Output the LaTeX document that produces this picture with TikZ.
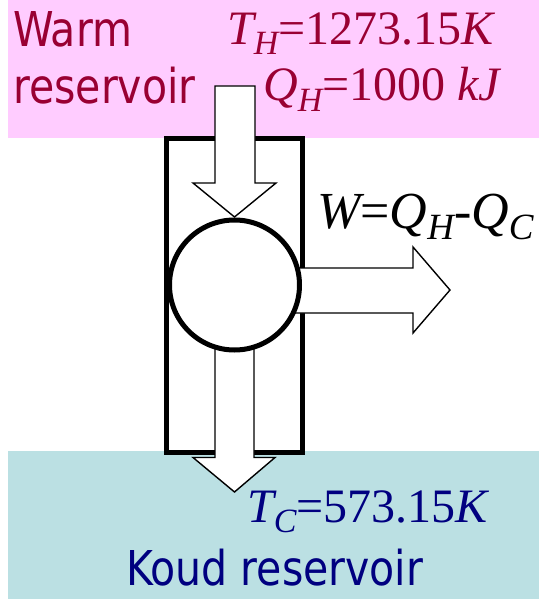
\documentclass[tikz,border=0pt]{standalone}
\usepackage{fontspec}
\setmainfont{DejaVu Sans Condensed}[FakeStretch=0.95]
\font\timesrmfont="Liberation Serif" at 48pt
\font\timesitfont="Liberation Serif/I" at 48pt
\font\timessubfont="Liberation Serif/I" at 34pt
\font\timesrmbig="Liberation Serif" at 52pt
\font\timesitbig="Liberation Serif/I" at 52pt
\font\timessubbig="Liberation Serif/I" at 37pt
\definecolor{warmpink}{RGB}{255,204,255}
\definecolor{coldblue}{RGB}{187,224,227}
\definecolor{warmtext}{RGB}{153,0,51}
\definecolor{coldtext}{RGB}{0,0,128}
\newcommand{\eqit}[1]{{\timesitfont #1}}
\newcommand{\eqrm}[1]{{\timesrmfont #1}}
\newcommand{\eqsub}[1]{\raisebox{-10pt}{\timessubfont #1}}
\newcommand{\bigit}[1]{{\timesitbig #1}}
\newcommand{\bigrm}[1]{{\timesrmbig #1}}
\newcommand{\bigsub}[1]{\raisebox{-11pt}{\timessubbig #1}}
\tikzset{
  lbl/.style={inner sep=0pt, anchor=base west, font=\fontsize{48}{48}\selectfont},
  eq/.style={inner sep=0pt, anchor=base west, font=\fontsize{48}{48}\selectfont},
  fatarrow/.style={draw=black, fill=white, line width=1.4pt, line join=miter},
}
\begin{document}
\begin{tikzpicture}[x=1pt,y=-1pt]
\useasboundingbox (0,0) rectangle (539,599);
\fill[warmpink] (8,0) rectangle (539,138);
\fill[coldblue] (8,451) rectangle (539,599);
\draw[line width=5pt] (166.5,138) rectangle (302.5,452);
\coordinate (c) at (234.5,285);
% top arrow
\draw[fatarrow] (215,86) -- (255,86) -- (255,183) -- (276,183) -- (234.5,217) -- (193,183) -- (215,183) -- cycle;
% bottom arrow
\draw[fatarrow] (215,330) -- (254,330) -- (254,457.5) -- (275,457.5) -- (234.5,492) -- (193,457.5) -- (215,457.5) -- cycle;
% right arrow
\draw[fatarrow] (280,268) -- (413,268) -- (413,247) -- (450,290) -- (413,333) -- (413,313) -- (280,313) -- cycle;
% engine
\draw[line width=5pt, fill=white] (c) circle (65pt);
% texts
\node[lbl, text=warmtext] (warm) at (13,47) {Warm};
\node[lbl, text=warmtext] (res) at (13,103) {reservoir};
\node[eq, text=warmtext] (th) at (227,45) {\eqit{T}\eqsub{H}\eqrm{=1273.15}\eqit{K}};
\node[eq, text=warmtext] (qh) at (263,101) {\eqit{Q}\eqsub{H}\eqrm{=1000 }\eqit{kJ}};
\node[eq, text=black] (w) at (317,228) {\bigit{W}\bigrm{=}\bigit{Q}\bigsub{H}\bigrm{-}\bigit{Q}\bigsub{C}};
\node[eq, text=coldtext] (tc) at (247,522) {\eqit{T}\eqsub{C}\eqrm{=573.15}\eqit{K}};
\node[lbl, text=coldtext] (koud) at (126,585) {Koud reservoir};
\end{tikzpicture}
\end{document}
